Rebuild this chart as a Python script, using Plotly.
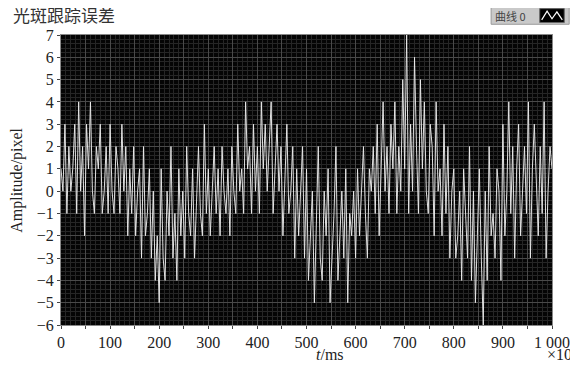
import plotly.graph_objects as go

# ---- data ----
x_step = 4
seg_0_100 = [1, 0, 3, -1, 2, 0, 1, 3, -1, 4, 0, 2, -2, 3, 1, 4, 0, -1, 2, 1, 3, -1, 0, 2, -1]
seg_100_200 = [3, 0, -1, 2, 1, -1, 3, 0, 2, -2, 1, -1, 2, -2, 0, 1, -3, 2, -2, -1, 1, -3, 0, -4, -2]
seg_200_300 = [-5, 1, -3, -4, 0, -2, 2, -3, -1, -4, 1, -2, 0, -3, 2, -1, -2, 1, -3, 0, 2, -1, -2, 3, -1]
seg_300_400 = [1, -2, 0, 2, -1, 1, -2, 2, 0, -1, 1, -2, 2, 0, -1, 3, 0, 1, -1, 4, 1, 2, -1, 3, 0]
seg_400_500 = [2, -1, 4, 1, 3, 0, 2, 4, -1, 1, 3, 0, 2, -2, 1, 3, -1, 0, 2, -3, 1, -2, 0, 2, -3]
seg_500_600 = [1, -4, -2, 0, -5, -1, 2, -3, -4, 0, -2, 1, -5, -3, -1, 2, -4, -2, 0, -3, 1, -5, -1, -2, 0]
seg_600_700 = [-3, 1, -2, 0, 2, -1, -3, 1, 0, 2, -1, 3, -2, 1, 4, 0, 2, -1, 3, 1, 4, -1, 2, 0, 5]
seg_700_800 = [1, 7, -1, 3, 0, 6, 2, -1, 5, 1, 4, 0, -1, 3, 2, -2, 4, 0, 1, -2, 3, -1, 2, -3, 0]
seg_800_900 = [1, -3, -2, 0, -4, 1, -1, -3, 2, -4, 0, -5, -2, 1, -3, -6, 0, -4, 2, -2, -1, -3, 1, 0, -4]
seg_900_1000 = [3, -2, 0, 4, -1, 2, -3, 1, 3, -2, 0, 2, -1, 4, -3, 1, 3, 0, -2, 2, -1, 4, -3, 0, 2, 1]

amplitude = (seg_0_100 + seg_100_200 + seg_200_300 + seg_300_400 + seg_400_500
             + seg_500_600 + seg_600_700 + seg_700_800 + seg_800_900 + seg_900_1000)
t_ms = [i * x_step for i in range(len(amplitude))]

x_tick_vals = [0, 50, 100, 150, 200, 250, 300, 350, 400, 450, 500,
               550, 600, 650, 700, 750, 800, 850, 900, 950, 1000]
x_tick_text = ["0", "", "100", "", "200", "", "300", "", "400", "", "500",
               "", "600", "", "700", "", "800", "", "900", "", "1 000"]
y_tick_vals = list(range(-6, 8))
y_tick_text = [("\u2212" + str(-v)) if v < 0 else str(v) for v in y_tick_vals]

title_text = "光斑跟踪误差"
legend_text = "曲线 0"
x_title = "<i>t</i>/ms"
y_title = "Amplitude/pixel"
x_multiplier = "\u00d710"

serif = "Liberation Serif, Times New Roman, serif"
cjk = "Noto Sans CJK SC, sans-serif"

fig = go.Figure()
fig.add_trace(go.Scatter(
    x=t_ms, y=amplitude, mode="lines",
    line=dict(color="rgba(235,235,235,0.95)", width=1),
    showlegend=False, hoverinfo="skip",
))

axis_common = dict(
    showline=True, linecolor="#888", linewidth=1, mirror=True,
    ticks="outside", ticklen=3, tickcolor="#444",
    tickfont=dict(family=serif, size=16, color="#222"),
    zeroline=False, automargin=False,
)

fig.update_xaxes(
    range=[0, 1000], tickvals=x_tick_vals, ticktext=x_tick_text,
    showgrid=True, gridcolor="#4a4a4a", gridwidth=1,
    minor=dict(tick0=0, dtick=10, showgrid=True, gridcolor="#262626", gridwidth=1, ticks=""),
    **axis_common,
)
fig.update_yaxes(
    range=[-6, 7], tickvals=y_tick_vals, ticktext=y_tick_text,
    showgrid=True, gridcolor="#4a4a4a", gridwidth=1,
    minor=dict(dtick=0.2, showgrid=True, gridcolor="#262626", gridwidth=1, ticks=""),
    **axis_common,
)

# legend box (top right)
fig.add_shape(type="rect", xref="paper", yref="paper", x0=0.876, x1=1.035, y0=1.037, y1=1.097,
              fillcolor="#c9c9c9", line=dict(color="#9a9a9a", width=1))
fig.add_shape(type="rect", xref="paper", yref="paper", x0=0.975, x1=1.025, y0=1.043, y1=1.091,
              fillcolor="#000", line=dict(color="#666", width=1))
fig.add_shape(type="path", xref="paper", yref="paper",
              path="M 0.979 1.052 L 0.990 1.082 L 1.000 1.056 L 1.010 1.080 L 1.021 1.052",
              line=dict(color="white", width=1.2))
fig.add_annotation(xref="paper", yref="paper", x=0.880, y=1.067, xanchor="left", yanchor="middle",
                   text=legend_text, showarrow=False,
                   font=dict(family=cjk, size=11, color="#444"))

# title
fig.add_annotation(xref="paper", yref="paper", x=-0.102, y=1.069, xanchor="left", yanchor="middle",
                   text=title_text, showarrow=False,
                   font=dict(family=cjk, size=17, color="#333"))
# axis titles
fig.add_annotation(xref="paper", yref="paper", x=0.548, y=-0.1, xanchor="center", yanchor="middle",
                   text=x_title, showarrow=False,
                   font=dict(family=serif, size=16, color="#222"))
fig.add_annotation(xref="paper", yref="paper", x=-0.09, y=0.5, xanchor="center", yanchor="middle",
                   text=y_title, showarrow=False, textangle=-90,
                   font=dict(family=serif, size=16, color="#222"))
# x10 multiplier
fig.add_annotation(xref="paper", yref="paper", x=1.044, y=-0.103, xanchor="right", yanchor="middle",
                   text=x_multiplier, showarrow=False,
                   font=dict(family=serif, size=16, color="#222"))

# the page body adds an 8px offset, so the figure is smaller and shifted accordingly
fig.update_layout(
    width=570, height=354,
    margin=dict(l=53, r=26, t=27, b=37, autoexpand=False),
    paper_bgcolor="white", plot_bgcolor="#050505",
    font=dict(family=serif),
)

fig.write_html("out.html")
